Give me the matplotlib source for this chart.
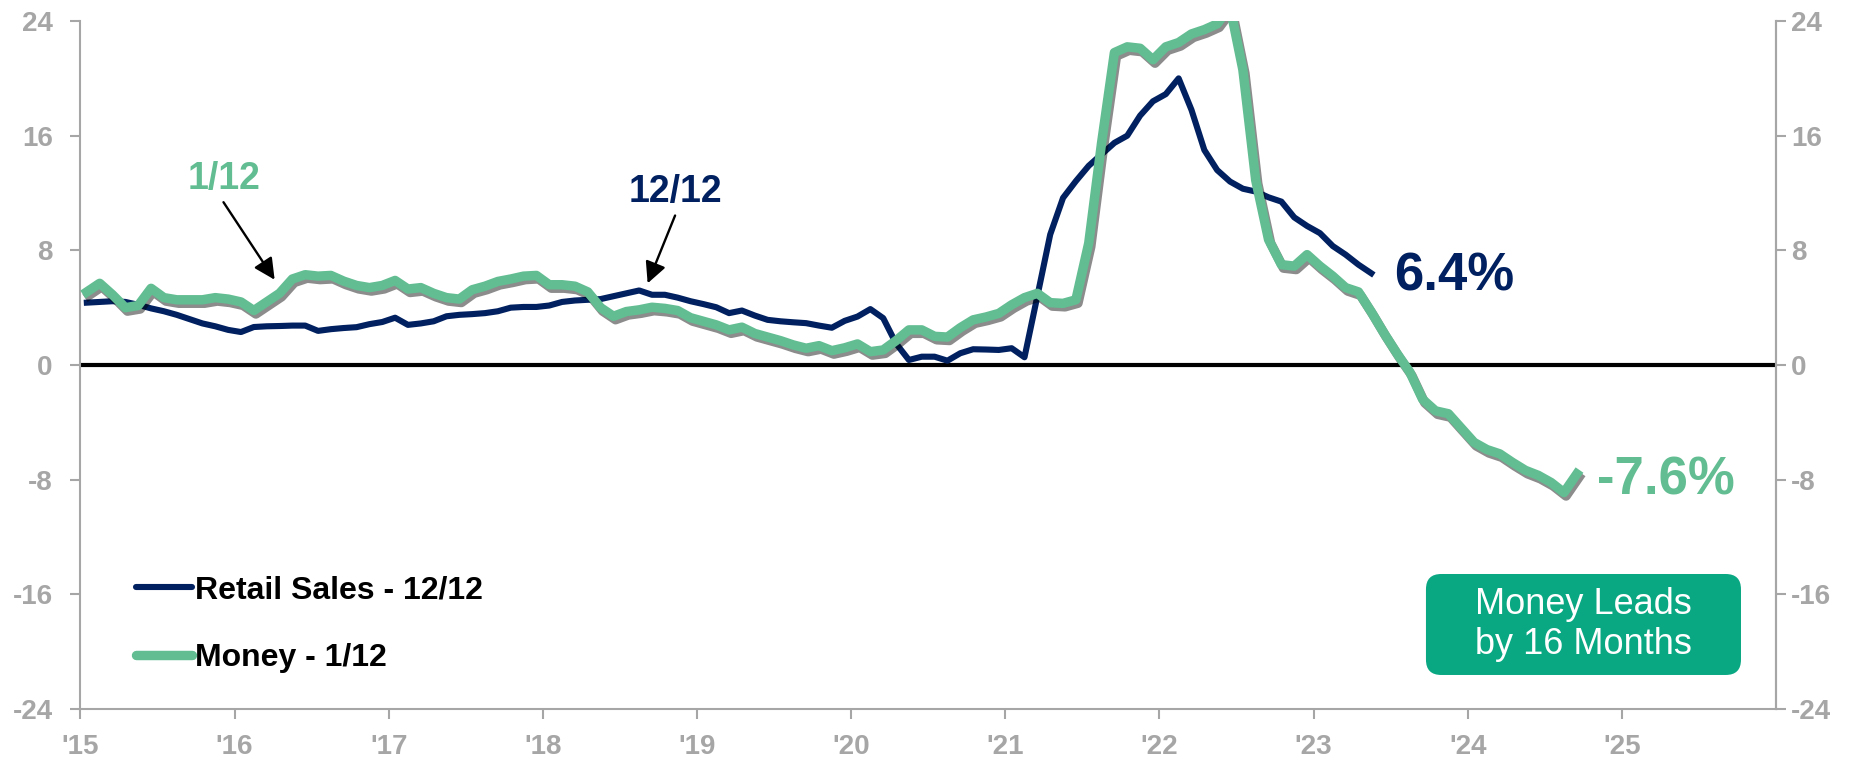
import numpy as np
import matplotlib
matplotlib.use("Agg")
import matplotlib.pyplot as plt
import matplotlib.patheffects as pe
from matplotlib import font_manager
from matplotlib.lines import Line2D
from matplotlib.patches import FancyBboxPatch

# Year-over-year growth, monthly, first point Jan 2015
retail_sales = [
    4.35, 4.4, 4.45, 4.4, 4.2, 3.95, 3.75, 3.5, 3.2, 2.9, 2.7, 2.45,
    2.3, 2.65, 2.7, 2.72, 2.75, 2.75, 2.38, 2.5, 2.58, 2.64, 2.85, 3.0,
    3.3, 2.8, 2.9, 3.05, 3.4, 3.5, 3.55, 3.62, 3.75, 4.0, 4.05, 4.05,
    4.15, 4.4, 4.5, 4.55, 4.6, 4.8, 5.0, 5.2, 4.9, 4.9, 4.7, 4.45,
    4.25, 4.03, 3.62, 3.8, 3.45, 3.15, 3.05, 2.98, 2.92, 2.75, 2.6, 3.08,
    3.38, 3.9, 3.27, 1.5, 0.35, 0.58, 0.58, 0.3, 0.82, 1.1, 1.08, 1.05,
    1.17, 0.54, 4.8, 9.1, 11.66, 12.83, 13.9, 14.7, 15.5, 16.0, 17.4, 18.4,
    18.9, 20.0, 17.8, 15.0, 13.6, 12.8, 12.3, 12.1, 11.7, 11.4, 10.3, 9.7,
    9.2, 8.3, 7.7, 7.0, 6.4,
]
money = [
    5.1, 5.7, 4.9, 4.0, 4.15, 5.35, 4.7, 4.55, 4.55, 4.55, 4.7, 4.6,
    4.4, 3.8, 4.4, 5.0, 6.0, 6.3, 6.2, 6.25, 5.85, 5.55, 5.4, 5.55,
    5.9, 5.3, 5.4, 5.0, 4.7, 4.6, 5.25, 5.5, 5.83, 6.0, 6.2, 6.25,
    5.6, 5.6, 5.5, 5.1, 4.0, 3.4, 3.73, 3.85, 4.03, 3.95, 3.8, 3.3,
    3.05, 2.8, 2.45, 2.64, 2.2, 1.95, 1.7, 1.4, 1.17, 1.35, 1.0, 1.2,
    1.47, 0.93, 1.05, 1.7, 2.45, 2.45, 2.0, 1.95, 2.6, 3.15, 3.35, 3.6,
    4.2, 4.7, 5.0, 4.35, 4.3, 4.55, 8.5, 15.5, 21.8, 22.2, 22.1, 21.3,
    22.2, 22.5, 23.1, 23.4, 23.8, 25.0, 20.6, 12.9, 8.75, 7.0, 6.9, 7.7,
    6.9, 6.2, 5.4, 5.1, 3.7, 2.2, 0.8, -0.5, -2.4, -3.2, -3.4, -4.4,
    -5.4, -5.9, -6.2, -6.8, -7.35, -7.7, -8.2, -8.9, -7.6,
]
y_ticks = [-24, -16, -8, 0, 8, 16, 24]
year_ticks = list(range(2015, 2026))
year_labels = ["'%02d" % (y % 100) for y in year_ticks]

NAVY = "#002060"
GREEN = "#62bd92"
BOX = "#0aa783"
GREY = "#a6a6a6"

available = {f.name for f in font_manager.fontManager.ttflist}
narrow = "Liberation Sans Narrow" if "Liberation Sans Narrow" in available else "Liberation Sans"
plt.rcParams["font.family"] = [narrow, "DejaVu Sans"]

t_retail = 2015 + (np.arange(len(retail_sales)) + 0.5) / 12
t_money = 2015 + (np.arange(len(money)) + 0.5) / 12

fig = plt.figure(figsize=(18.53, 7.62), dpi=100)
ax = fig.add_axes([0.0434, 0.0696, 0.9150, 0.9028])

ax.plot(t_retail, retail_sales, color=NAVY, lw=4.4, solid_joinstyle="round", zorder=3)
ax.plot(t_money, money, color=GREEN, lw=6.8, solid_joinstyle="round", zorder=4,
        path_effects=[pe.SimpleLineShadow(offset=(1.5, -2.5), shadow_color="black", alpha=0.45),
                      pe.Normal()])
ax.axhline(0, color="black", lw=3, zorder=2)

ax.set_xlim(2015, 2026)
ax.set_ylim(-24, 24)
ax.set_yticks(y_ticks)
ax.set_yticklabels([str(v) for v in y_ticks])
ax.set_xticks(year_ticks)
ax.set_xticklabels(year_labels)

ax.spines["top"].set_visible(False)
for side in ["left", "bottom", "right"]:
    ax.spines[side].set_color(GREY)
    ax.spines[side].set_linewidth(1.5)

ax.tick_params(axis="y", colors=GREY, length=7, width=1.5, pad=13, labelsize=20)
ax.tick_params(axis="x", colors=GREY, length=7, width=1.5, pad=11, labelsize=20)
for lbl in ax.get_xticklabels() + ax.get_yticklabels():
    lbl.set_fontweight("bold")

ax2 = ax.twinx()
ax2.set_ylim(-24, 24)
ax2.set_yticks(y_ticks)
ax2.set_yticklabels([str(v) for v in y_ticks])
ax2.tick_params(axis="y", colors=GREY, length=7, width=1.5, pad=4, labelsize=20)
for lbl in ax2.get_yticklabels():
    lbl.set_fontweight("bold")
for side in ["top", "left", "bottom"]:
    ax2.spines[side].set_visible(False)
ax2.spines["right"].set_color(GREY)
ax2.spines["right"].set_linewidth(1.5)

arrow = dict(arrowstyle="-|>", color="black", lw=1.7, mutation_scale=32, shrinkA=2, shrinkB=0)
ax.annotate("1/12", xy=(2016.26, 5.95), xytext=(2015.93, 12.97), color=GREEN,
            fontsize=27, fontweight="bold", ha="center", va="center", zorder=6,
            arrowprops=dict(arrow, relpos=(0.45, 0.0)))
ax.annotate("12/12", xy=(2018.68, 5.7), xytext=(2018.86, 12.06), color=NAVY,
            fontsize=27, fontweight="bold", ha="center", va="center", zorder=6,
            arrowprops=dict(arrow, relpos=(0.52, 0.0)))

ax.text(2023.52, 6.2, "%.1f%%" % retail_sales[-1], color=NAVY, fontsize=38,
        fontweight="bold", ha="left", va="center", family=["Liberation Sans", "DejaVu Sans"])
ax.text(2024.84, -8.05, "%.1f%%" % money[-1], color=GREEN, fontsize=38,
        fontweight="bold", ha="left", va="center", family=["Liberation Sans", "DejaVu Sans"])

# rounded call-out box, corners kept circular in pixel space
bx, by, bw, bh = 0.7936, 0.0494, 0.1858, 0.1468
aspect = (0.9150 * 1853) / (0.9028 * 762)
ax.add_patch(FancyBboxPatch((bx, by), bw, bh, transform=ax.transAxes,
                            boxstyle="round,pad=0,rounding_size=0.009",
                            mutation_aspect=aspect, fc=BOX, ec="none", zorder=5))
ax.text(bx + bw / 2, by + bh / 2, "Money Leads\nby 16 Months", transform=ax.transAxes,
        color="white", fontsize=26, ha="center", va="center", linespacing=1.22, zorder=6)

handles = [Line2D([], [], color=NAVY, lw=4.4, solid_capstyle="round"),
           Line2D([], [], color=GREEN, lw=6.8, solid_capstyle="round")]
leg = ax.legend(handles, ["Retail Sales - 12/12", "Money - 1/12"], loc="upper left",
                bbox_to_anchor=(0.016, 0.236), frameon=False, handlelength=1.74,
                handletextpad=0.1, labelspacing=1.18,
                prop=dict(family=[narrow, "DejaVu Sans"], weight="bold", size=23))
for txt in leg.get_texts():
    txt.set_color("black")

fig.savefig("out.png", dpi=100)
